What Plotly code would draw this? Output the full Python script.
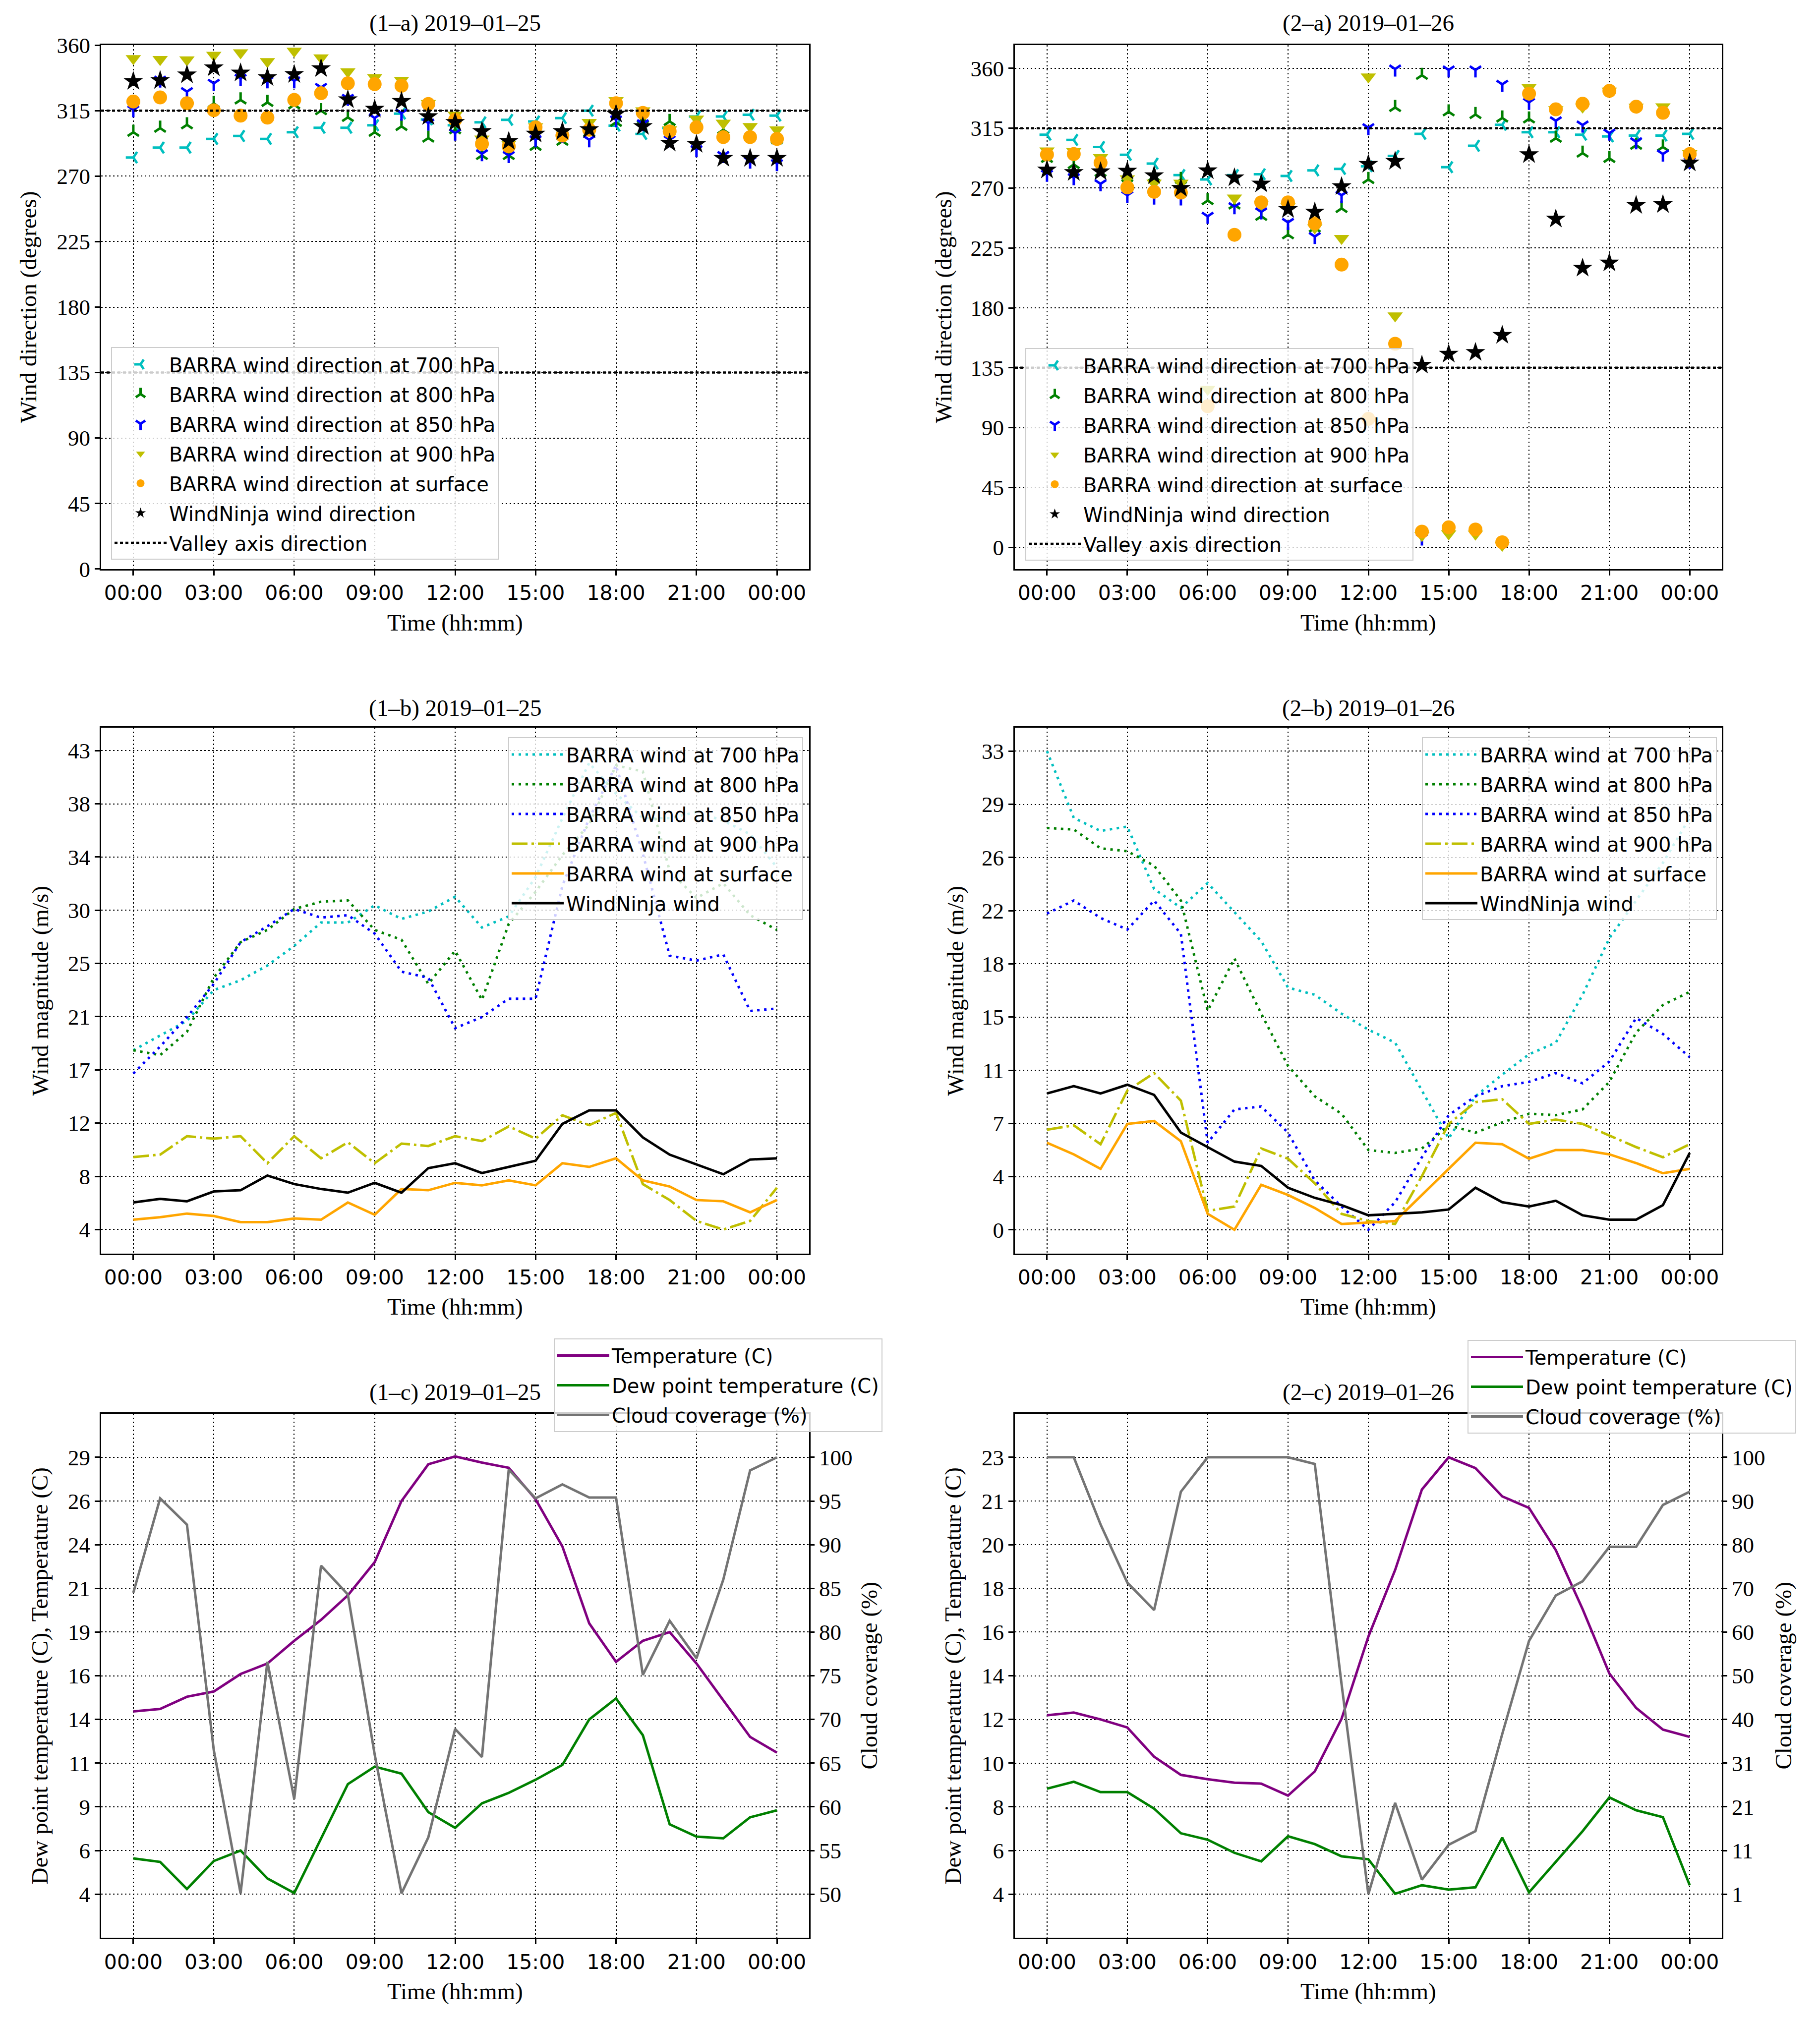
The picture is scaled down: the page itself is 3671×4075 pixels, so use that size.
import numpy as np
import plotly.graph_objects as go

# ---- shared x axis: hourly values over one day ----
HOURS = list(range(25))
HOUR_TICKS = [0, 3, 6, 9, 12, 15, 18, 21, 24]
HOUR_LABELS = ["00:00", "03:00", "06:00", "09:00", "12:00", "15:00", "18:00", "21:00", "00:00"]

# ---- (1-a) wind direction 2019-01-25 (degrees) ----
DIR1_700 = [282.8, 289.6, 289.6, 295.6, 297.6, 295.6, 300.2, 303.3, 303.3, 305.0, 313.0, 309.0, 305.0,
            307.0, 308.7, 307.6, 309.9, 315.0, 304.7, 299.0, 303.0, 311.0, 311.0, 312.2, 311.6]
DIR1_800 = [300.2, 303.0, 305.3, 320.0, 322.4, 320.7, 319.0, 315.0, 310.4, 300.2, 304.2, 296.2, 301.9,
            284.2, 284.2, 290.5, 294.0, 300.0, 307.0, 309.3, 307.6, 305.0, 301.9, 300.0, 295.0]
DIR1_850 = [315.6, 336.0, 328.1, 333.8, 337.2, 335.5, 335.5, 331.0, 323.5, 310.0, 313.3, 306.5, 299.6,
            285.4, 284.2, 295.0, 298.0, 295.0, 308.7, 306.0, 295.0, 288.2, 284.2, 280.3, 278.6]
DIR1_900 = [350.9, 350.3, 350.0, 353.2, 354.9, 348.8, 356.0, 351.4, 341.8, 337.8, 336.0, 320.0, 312.0,
            295.6, 292.0, 304.0, 300.0, 307.0, 322.0, 315.0, 302.0, 309.3, 306.5, 304.2, 301.9]
DIR1_SFC = [321.3, 324.1, 320.1, 315.3, 311.6, 310.2, 322.4, 327.0, 333.8, 333.2, 332.1, 319.6, 308.7,
            292.2, 290.5, 303.6, 297.9, 301.9, 320.1, 313.5, 300.8, 303.6, 296.8, 296.8, 295.6]
DIR1_WN = [335.2, 335.8, 339.7, 344.6, 341.0, 337.8, 340.0, 344.0, 322.6, 316.1, 321.5, 311.0, 307.0,
           300.8, 294.0, 299.0, 300.8, 302.1, 312.7, 304.2, 292.8, 291.9, 282.3, 282.3, 282.3]

# ---- (2-a) wind direction 2019-01-26 (degrees) ----
DIR2_700 = [310.1, 306.2, 300.9, 295.0, 288.4, 279.8, 276.5, 279.8, 280.4, 279.1, 283.3, 284.4, 286.4,
            294.2, 310.8, 285.7, 301.8, 317.6, 312.0, 312.0, 310.1, 308.8, 309.5, 309.5, 310.8]
DIR2_800 = [292.3, 287.7, 281.8, 278.0, 278.5, 276.5, 260.6, 257.3, 248.8, 234.9, 240.0, 254.7, 276.5,
            330.6, 354.8, 327.3, 325.3, 322.7, 322.0, 307.5, 296.3, 292.3, 302.2, 300.9, 292.0]
DIR2_850 = [280.4, 277.8, 273.2, 264.6, 263.3, 262.6, 248.8, 256.0, 252.1, 244.2, 233.6, 264.6, 315.4,
            359.5, 7.0, 358.8, 358.8, 348.0, 334.5, 320.6, 317.4, 311.3, 304.8, 295.6, 290.0]
DIR2_900 = [298.0, 297.6, 293.0, 277.1, 273.8, 273.8, 118.8, 262.6, 258.0, 256.0, 240.2, 232.3, 353.6,
            174.0, 9.0, 10.2, 10.0, 1.6, 345.7, 329.0, 331.0, 343.0, 331.0, 331.2, 296.0]
DIR2_SFC = [295.2, 295.6, 289.0, 270.5, 267.2, 266.6, 106.0, 234.9, 259.3, 259.3, 243.5, 212.5, 96.5,
            153.0, 11.8, 15.0, 13.4, 3.8, 341.0, 329.2, 333.4, 343.1, 331.2, 326.6, 295.6]
DIR2_WN = [283.7, 281.8, 282.4, 282.8, 279.4, 269.9, 283.1, 277.8, 273.2, 254.0, 252.1, 271.2, 288.0,
           290.2, 137.0, 145.3, 146.6, 159.4, 295.2, 246.8, 209.9, 213.8, 257.0, 257.7, 289.0]

VALLEY_AXIS = [315, 135]
DIR_TICKS = [0, 45, 90, 135, 180, 225, 270, 315, 360]

# ---- (1-b) wind magnitude 2019-01-25 (m/s) ----
SPD1_700 = [18.6, 19.8, 21.0, 23.5, 24.3, 25.5, 27.1, 29.0, 29.0, 30.4, 29.3, 29.9, 31.1,
            28.6, 29.5, 32.7, 37.5, 42.0, 39.5, 37.5, 37.5, 38.0, 37.3, 36.2, 33.5]
SPD1_800 = [18.6, 18.2, 20.1, 24.5, 27.4, 28.4, 30.1, 30.7, 30.8, 28.4, 27.6, 24.0, 26.7,
            22.7, 28.9, 31.5, 34.5, 37.0, 41.8, 41.3, 33.2, 31.0, 32.2, 29.6, 28.4]
SPD1_850 = [16.7, 18.9, 21.3, 24.0, 27.4, 28.7, 30.1, 29.4, 29.6, 28.1, 25.0, 24.5, 20.4,
            21.3, 22.8, 22.8, 32.0, 37.5, 41.8, 34.6, 26.3, 25.9, 26.4, 21.8, 22.0]
SPD1_900 = [9.9, 10.1, 11.6, 11.4, 11.6, 9.4, 11.6, 9.8, 11.1, 9.4, 11.0, 10.8, 11.6,
            11.2, 12.4, 11.4, 13.3, 12.5, 13.5, 7.7, 6.4, 4.7, 4.0, 4.7, 7.4]
SPD1_SFC = [4.8, 5.0, 5.3, 5.1, 4.6, 4.6, 4.9, 4.8, 6.2, 5.2, 7.3, 7.2, 7.8,
            7.6, 8.0, 7.6, 9.4, 9.1, 9.8, 8.0, 7.5, 6.4, 6.3, 5.4, 6.4]
SPD1_WN = [6.2, 6.5, 6.3, 7.1, 7.2, 8.4, 7.7, 7.3, 7.0, 7.8, 7.0, 9.0, 9.4,
           8.6, 9.1, 9.6, 12.6, 13.7, 13.7, 11.5, 10.1, 9.3, 8.5, 9.7, 9.8]
SPD1_TICK_TEXT = ["4", "8", "12", "17", "21", "25", "30", "34", "38", "43"]

# ---- (2-b) wind magnitude 2019-01-26 (m/s) ----
SPD2_700 = [33.0, 28.4, 27.5, 27.8, 23.5, 22.2, 23.9, 21.9, 19.9, 16.7, 16.2, 14.9, 13.8,
            12.9, 9.6, 6.3, 9.2, 10.7, 12.1, 12.9, 16.2, 20.1, 22.7, 25.3, 28.4]
SPD2_800 = [27.7, 27.6, 26.3, 26.1, 25.1, 22.7, 15.1, 18.7, 14.9, 11.3, 9.2, 8.0, 5.5,
            5.3, 5.6, 7.2, 6.7, 7.4, 8.0, 7.9, 8.3, 10.2, 13.6, 15.5, 16.4]
SPD2_850 = [21.8, 22.7, 21.5, 20.7, 22.7, 20.4, 6.0, 8.3, 8.5, 6.7, 3.4, 1.6, 0.0,
            1.9, 5.0, 7.9, 9.2, 9.9, 10.2, 10.8, 10.1, 11.6, 14.6, 13.5, 11.9]
SPD2_900 = [6.9, 7.2, 5.9, 9.6, 10.8, 8.9, 1.3, 1.6, 5.6, 4.9, 3.2, 1.1, 0.6,
            0.4, 3.7, 7.3, 8.8, 9.0, 7.3, 7.6, 7.3, 6.5, 5.7, 5.0, 5.9]
SPD2_SFC = [6.0, 5.2, 4.2, 7.3, 7.5, 6.1, 1.1, 0.0, 3.1, 2.4, 1.5, 0.4, 0.5,
            0.6, 2.4, 4.2, 6.0, 5.9, 4.9, 5.5, 5.5, 5.2, 4.6, 3.9, 4.2]
SPD2_WN = [9.4, 9.9, 9.4, 10.0, 9.3, 6.7, 5.7, 4.7, 4.4, 2.9, 2.2, 1.7, 1.0,
           1.1, 1.2, 1.4, 2.9, 1.9, 1.6, 2.0, 1.0, 0.7, 0.7, 1.7, 5.3]
SPD2_TICK_TEXT = ["0", "4", "7", "11", "15", "18", "22", "26", "29", "33"]

# ---- (1-c) temperature / dew point / cloud 2019-01-25 ----
TEMP1 = [14.46, 14.6, 15.3, 15.6, 16.6, 17.2, 18.5, 19.7, 21.1, 23.0, 26.5, 28.6, 29.05,
         28.7, 28.4, 26.6, 23.9, 19.5, 17.3, 18.5, 19.0, 17.2, 15.1, 13.0, 12.1]
DEW1 = [6.05, 5.85, 4.3, 5.9, 6.5, 4.9, 4.07, 7.2, 10.3, 11.3, 10.9, 8.7, 7.8,
        9.2, 9.8, 10.55, 11.4, 14.0, 15.2, 13.1, 8.0, 7.3, 7.2, 8.4, 8.8]
CLOUD1 = [84.5, 95.3, 92.3, 66.5, 50.1, 76.6, 60.9, 87.6, 84.3, 66.0, 50.1, 56.5, 68.9,
          65.7, 98.6, 95.3, 96.9, 95.4, 95.4, 75.1, 81.3, 77.0, 86.0, 98.5, 100.0]
TEMP1_TICK_TEXT = ["4", "6", "9", "11", "14", "16", "19", "21", "24", "26", "29"]
CLOUD1_TICK_TEXT = ["50", "55", "60", "65", "70", "75", "80", "85", "90", "95", "100"]

# ---- (2-c) temperature / dew point / cloud 2019-01-26 ----
TEMP2 = [11.78, 11.9, 11.6, 11.25, 9.98, 9.19, 9.0, 8.85, 8.81, 8.29, 9.34, 11.63, 15.2,
         18.1, 21.6, 23.0, 22.53, 21.3, 20.8, 18.96, 16.4, 13.6, 12.1, 11.16, 10.84]
DEW2 = [8.59, 8.89, 8.44, 8.44, 7.72, 6.65, 6.37, 5.8, 5.43, 6.52, 6.18, 5.65, 5.52,
        4.02, 4.39, 4.2, 4.3, 6.46, 4.08, 5.43, 6.74, 8.21, 7.65, 7.35, 4.39]
CLOUD2 = [100.0, 100.0, 84.8, 71.6, 65.4, 92.2, 100.0, 100.0, 100.0, 100.0, 98.5, 48.6, 1.0,
          21.7, 4.3, 12.2, 15.3, 37.3, 58.4, 68.7, 71.9, 79.7, 79.7, 89.2, 92.2]
TEMP2_TICK_TEXT = ["4", "6", "8", "10", "12", "14", "16", "18", "20", "21", "23"]
CLOUD2_TICK_TEXT = ["1", "11", "21", "31", "40", "50", "60", "70", "80", "90", "100"]

# ---- page geometry (pixels of the 3671x4075 page) ----
W, H = 3671, 4075
PAGE_MARGIN = 8  # default <body> margin around the plotly div
FW, FH = W - 2 * PAGE_MARGIN, H - 2 * PAGE_MARGIN
COLS = [(204, 1632), (2047, 3473)]
ROWS = [(92, 1150), (1471, 2533), (2856, 3915)]
V_CENTER, V_STRETCH = 2240, 1.0112  # small vertical correction measured against the reference
SERIF = "Liberation Serif"
SANS = "DejaVu Sans"


def px_x(p):
    return (p - PAGE_MARGIN) / FW


def px_y(p):
    p = V_CENTER + (p - V_CENTER) * V_STRETCH
    return 1 - (p - PAGE_MARGIN) / FH


def xdom(c):
    return [px_x(COLS[c][0]), px_x(COLS[c][1])]


def ydom(r):
    return [px_y(ROWS[r][1]), px_y(ROWS[r][0])]


def sid(n):
    # plotly axis suffix: "" for the first subplot, then "2", "3", ...
    return "" if n == 1 else str(n)


GRID = dict(showgrid=True, gridcolor="black", gridwidth=2, griddash="3px,5px",
            showline=True, linecolor="black", linewidth=3, mirror=True,
            ticks="outside", ticklen=10, tickwidth=3, tickcolor="black", zeroline=False)

fig = go.Figure()

# ---------- direction panels ----------
dir_styles = [
    ("BARRA wind direction at 700 hPa", "y-left", "#00BFBF", 19),
    ("BARRA wind direction at 800 hPa", "y-up", "#008000", 19),
    ("BARRA wind direction at 850 hPa", "y-down", "#0000FF", 19),
    ("BARRA wind direction at 900 hPa", "triangle-down", "#BFBF00", 27),
    ("BARRA wind direction at surface", "circle", "#FFA500", 28),
    ("WindNinja wind direction", "star", "#000000", 30),
]
dir_data = [
    [DIR1_700, DIR1_800, DIR1_850, DIR1_900, DIR1_SFC, DIR1_WN],
    [DIR2_700, DIR2_800, DIR2_850, DIR2_900, DIR2_SFC, DIR2_WN],
]
for p, series in enumerate(dir_data):
    ax = sid(p + 1)
    leg = "legend" + ax
    for i, (vals, (name, sym, col, size)) in enumerate(zip(series, dir_styles)):
        is_line_sym = sym.startswith("y-")
        fig.add_trace(go.Scatter(
            x=HOURS, y=vals, mode="markers", name=name,
            marker=dict(symbol=sym, size=size, color=col,
                        line=dict(color=col, width=5 if is_line_sym else 0)),
            xaxis="x" + ax, yaxis="y" + ax, legend=leg, legendgroup=f"a{p}{i}"))
    # legend entry for the valley axis lines
    fig.add_trace(go.Scatter(
        x=[None], y=[None], mode="lines", name="Valley axis direction",
        line=dict(color="black", width=4.5, dash="6px,5px"),
        xaxis="x" + ax, yaxis="y" + ax, legend=leg, legendgroup=f"a{p}v"))
    for v in VALLEY_AXIS:
        fig.add_shape(type="line", xref=f"x{ax} domain", x0=0, x1=1,
                      yref="y" + ax, y0=v, y1=v,
                      line=dict(color="black", width=4.5, dash="6px,5px"))

# ---------- magnitude panels ----------
spd_styles = [
    ("BARRA wind at 700 hPa", "#00BFBF", "5px,9px"),
    ("BARRA wind at 800 hPa", "#008000", "5px,9px"),
    ("BARRA wind at 850 hPa", "#0000FF", "5px,9px"),
    ("BARRA wind at 900 hPa", "#BFBF00", "32px,8px,5px,8px"),
    ("BARRA wind at surface", "#FFA500", "solid"),
    ("WindNinja wind", "#000000", "solid"),
]
spd_data = [
    [SPD1_700, SPD1_800, SPD1_850, SPD1_900, SPD1_SFC, SPD1_WN],
    [SPD2_700, SPD2_800, SPD2_850, SPD2_900, SPD2_SFC, SPD2_WN],
]
for p, series in enumerate(spd_data):
    ax = sid(p + 3)
    leg = "legend" + ax
    for i, (vals, (name, col, dash)) in enumerate(zip(series, spd_styles)):
        fig.add_trace(go.Scatter(
            x=HOURS, y=vals, mode="lines", name=name,
            line=dict(color=col, width=5, dash=dash),
            xaxis="x" + ax, yaxis="y" + ax, legend=leg, legendgroup=f"b{p}{i}"))

# ---------- temperature panels ----------
met_data = [(TEMP1, DEW1, CLOUD1), (TEMP2, DEW2, CLOUD2)]
for p, (temp, dew, cloud) in enumerate(met_data):
    ax = sid(p + 5)
    right = sid(p + 7)
    leg = "legend" + ax
    fig.add_trace(go.Scatter(x=HOURS, y=temp, mode="lines", name="Temperature (C)",
                             line=dict(color="#800080", width=5),
                             xaxis="x" + ax, yaxis="y" + ax, legend=leg, legendgroup=f"c{p}0"))
    fig.add_trace(go.Scatter(x=HOURS, y=dew, mode="lines", name="Dew point temperature (C)",
                             line=dict(color="#008000", width=5),
                             xaxis="x" + ax, yaxis="y" + ax, legend=leg, legendgroup=f"c{p}1"))
    fig.add_trace(go.Scatter(x=HOURS, y=cloud, mode="lines", name="Cloud coverage (%)",
                             line=dict(color="#747474", width=5),
                             xaxis="x" + ax, yaxis="y" + right, legend=leg, legendgroup=f"c{p}2"))

# ---------- axes ----------
layout = {}
xfont = dict(family=SANS, size=41, color="black")
yfont = dict(family=SERIF, size=45, color="black")
for k in range(6):
    c = k % 2
    layout["xaxis" + sid(k + 1)] = dict(GRID, domain=xdom(c), anchor="y" + sid(k + 1),
                                        range=[-1.2, 25.2], tickvals=HOUR_TICKS,
                                        ticktext=HOUR_LABELS, tickfont=xfont)

y_specs = [
    dict(range=[0, 360], tickvals=DIR_TICKS),
    dict(range=[-16.3, 377.4], tickvals=DIR_TICKS),
    dict(range=[2.03, 44.85], tickvals=list(np.linspace(4, 43, 10)), ticktext=SPD1_TICK_TEXT),
    dict(range=[-1.65, 34.6], tickvals=list(np.linspace(0, 33, 10)), ticktext=SPD2_TICK_TEXT),
    dict(range=[1.5, 31.5], tickvals=list(np.linspace(4, 29, 11)), ticktext=TEMP1_TICK_TEXT),
    dict(range=[2.1, 24.9], tickvals=list(np.linspace(4, 23, 11)), ticktext=TEMP2_TICK_TEXT),
]
for k, spec in enumerate(y_specs):
    r = k // 2
    layout["yaxis" + sid(k + 1)] = dict(GRID, domain=ydom(r), anchor="x" + sid(k + 1),
                                        tickfont=yfont, **spec)

right_specs = [
    dict(range=[45, 105], tickvals=list(np.linspace(50, 100, 11)), ticktext=CLOUD1_TICK_TEXT),
    dict(range=[-8.9, 109.9], tickvals=list(np.linspace(1, 100, 11)), ticktext=CLOUD2_TICK_TEXT),
]
for j, spec in enumerate(right_specs):
    layout["yaxis" + sid(j + 7)] = dict(overlaying="y" + sid(j + 5), anchor="x" + sid(j + 5),
                                        side="right", showgrid=False, zeroline=False,
                                        showline=False, ticks="outside", ticklen=10,
                                        tickwidth=3, tickcolor="black", tickfont=yfont, **spec)

# ---------- legends ----------
leg_base = dict(font=dict(family=SANS, size=40, color="black"), bgcolor="rgba(255,255,255,0.8)",
                bordercolor="#cccccc", borderwidth=2, tracegroupgap=5, itemwidth=105,
                traceorder="grouped")
legend_pos = [
    (224, 702, "left"), (2068, 704, "left"),
    (1620, 1490, "right"), (3463, 1490, "right"),
    (1117, 2704, "left"), (2960, 2707, "left"),
]
for k, (lx, ly, anchor) in enumerate(legend_pos):
    layout["legend" + sid(k + 1)] = dict(leg_base, x=px_x(lx), y=px_y(ly), xanchor=anchor,
                                         yanchor="top", xref="paper", yref="paper")

# ---------- titles and axis labels ----------
titles = ["(1–a) 2019–01–25", "(2–a) 2019–01–26", "(1–b) 2019–01–25",
          "(2–b) 2019–01–26", "(1–c) 2019–01–25", "(2–c) 2019–01–26"]
title_y = [47, 1430, 2812]
xlabel_y = [1258, 2640, 4023]
ylabels = ["Wind direction (degrees)", "Wind magnitude (m/s)",
           "Dew point temperature (C), Temperature (C)"]
ylabel_x = [(57, 1903), (81, 1927), (80, 1922)]
label_font = dict(family=SERIF, size=47, color="black")
ann = []
for k, t in enumerate(titles):
    r, c = k // 2, k % 2
    cx = (COLS[c][0] + COLS[c][1]) / 2
    cy = (ROWS[r][0] + ROWS[r][1]) / 2
    ann.append(dict(text=t, x=px_x(cx), y=px_y(title_y[r]), xref="paper", yref="paper",
                    showarrow=False, font=label_font, xanchor="center", yanchor="middle"))
    ann.append(dict(text="Time (hh:mm)", x=px_x(cx), y=px_y(xlabel_y[r]), xref="paper",
                    yref="paper", showarrow=False, font=label_font,
                    xanchor="center", yanchor="middle"))
    ann.append(dict(text=ylabels[r], x=px_x(ylabel_x[r][c]), y=px_y(cy), xref="paper",
                    yref="paper", showarrow=False, textangle=-90, font=label_font,
                    xanchor="center", yanchor="middle"))
for rx in [1753, 3597]:
    cy = (ROWS[2][0] + ROWS[2][1]) / 2
    ann.append(dict(text="Cloud coverage (%)", x=px_x(rx), y=px_y(cy), xref="paper",
                    yref="paper", showarrow=False, textangle=-90, font=label_font,
                    xanchor="center", yanchor="middle"))

fig.update_layout(
    width=FW, height=FH, margin=dict(l=0, r=0, t=0, b=0),
    paper_bgcolor="white", plot_bgcolor="white",
    annotations=ann, showlegend=True, **layout)

fig.write_html("out.html")
